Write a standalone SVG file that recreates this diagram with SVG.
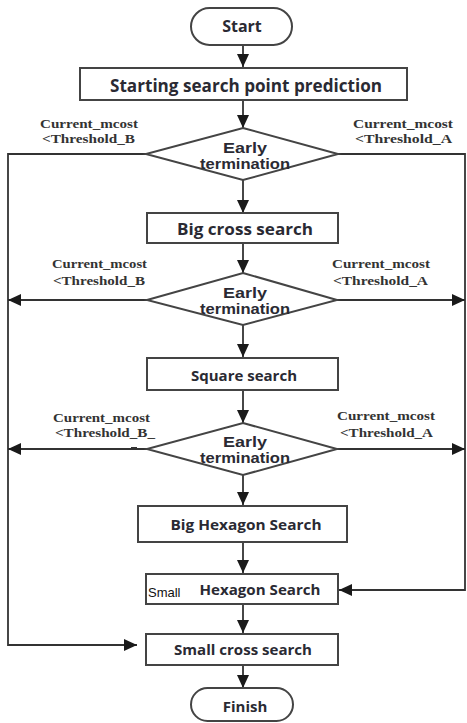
<svg xmlns="http://www.w3.org/2000/svg" width="467" height="723" viewBox="0 0 467 723">
<defs>
<marker id="ah" markerUnits="userSpaceOnUse" markerWidth="14" markerHeight="12" refX="13" refY="6" orient="auto">
<path d="M0,0 L13,6 L0,12 Z" fill="#1a1a1a"/>
</marker>
<style>
.shape{fill:#fff;stroke:#444;stroke-width:2}
.ln{fill:none;stroke:#333;stroke-width:1.8}
.bt{font-family:"Open Sans","DejaVu Sans",sans-serif;font-weight:bold;fill:#2a2a33;text-anchor:middle}
.dt{font-family:"Liberation Sans",Arial,sans-serif;font-weight:bold;font-size:14px;fill:#2a2a33;text-anchor:middle}
.lb{font-family:"Liberation Serif","Times New Roman",serif;font-weight:bold;font-size:13.5px;fill:#333}
.sm{font-family:"Liberation Sans",Arial,sans-serif;font-size:13px;fill:#111}
</style>
</defs>
<rect width="467" height="723" fill="#fff"/>
<g id="connectors">
<path class="ln" d="M243,45 V67" marker-end="url(#ah)"/>
<path class="ln" d="M243,100 V128" marker-end="url(#ah)"/>
<path class="ln" d="M243,180 V213" marker-end="url(#ah)"/>
<path class="ln" d="M243,243 V273" marker-end="url(#ah)"/>
<path class="ln" d="M243,325 V357" marker-end="url(#ah)"/>
<path class="ln" d="M243,390 V423" marker-end="url(#ah)"/>
<path class="ln" d="M243,475 V505" marker-end="url(#ah)"/>
<path class="ln" d="M243,542 V573" marker-end="url(#ah)"/>
<path class="ln" d="M243,604 V633" marker-end="url(#ah)"/>
<path class="ln" d="M243,665 V688" marker-end="url(#ah)"/>
<path class="ln" d="M146,154 H8 V645 H137" marker-end="url(#ah)"/>
<path class="ln" d="M338,154 H465 V590 H339" marker-end="url(#ah)"/>
<path class="ln" d="M147,300 H8" marker-end="url(#ah)"/>
<path class="ln" d="M337,300 H465" marker-end="url(#ah)"/>
<path class="ln" d="M147,449 H8" marker-end="url(#ah)"/>
<path class="ln" d="M337,449 H465" marker-end="url(#ah)"/>
</g>
<g id="start">
<rect class="shape" x="191" y="8" width="101" height="37" rx="18.5"/>
<text class="bt" x="242" y="32" font-size="16">Start</text>
</g>
<g id="predict">
<rect class="shape" x="80" y="68" width="327" height="32"/>
<text class="bt" x="246" y="92" font-size="17" textLength="272" lengthAdjust="spacingAndGlyphs">Starting search point prediction</text>
</g>
<g id="early1">
<polygon class="shape" points="243,128 338,154 243,180 146,154"/>
<text class="dt" x="245" y="153" textLength="44" lengthAdjust="spacingAndGlyphs">Early</text>
<text class="dt" x="245" y="169" textLength="90" lengthAdjust="spacingAndGlyphs">termination</text>
<text class="lb" x="40" y="128" textLength="98" lengthAdjust="spacingAndGlyphs">Current_mcost</text>
<text class="lb" x="42" y="143" textLength="93" lengthAdjust="spacingAndGlyphs">&lt;Threshold_B</text>
<text class="lb" x="353" y="128" textLength="100" lengthAdjust="spacingAndGlyphs">Current_mcost</text>
<text class="lb" x="355" y="143" textLength="97" lengthAdjust="spacingAndGlyphs">&lt;Threshold_A</text>
</g>
<g id="bigcross">
<rect class="shape" x="147" y="213" width="191" height="30"/>
<text class="bt" x="245" y="235" font-size="16" textLength="136" lengthAdjust="spacingAndGlyphs">Big cross search</text>
</g>
<g id="early2">
<polygon class="shape" points="243,273 337,300 243,325 147,300"/>
<text class="dt" x="245" y="298" textLength="44" lengthAdjust="spacingAndGlyphs">Early</text>
<text class="dt" x="245" y="314" textLength="90" lengthAdjust="spacingAndGlyphs">termination</text>
<text class="lb" x="52" y="268" textLength="95" lengthAdjust="spacingAndGlyphs">Current_mcost</text>
<text class="lb" x="53" y="285" textLength="92" lengthAdjust="spacingAndGlyphs">&lt;Threshold_B</text>
<text class="lb" x="332" y="268" textLength="98" lengthAdjust="spacingAndGlyphs">Current_mcost</text>
<text class="lb" x="333" y="285" textLength="95" lengthAdjust="spacingAndGlyphs">&lt;Threshold_A</text>
</g>
<g id="square">
<rect class="shape" x="147" y="358" width="191" height="32"/>
<text class="bt" x="244" y="381" font-size="15" textLength="106" lengthAdjust="spacingAndGlyphs">Square search</text>
</g>
<g id="early3">
<polygon class="shape" points="243,423 337,449 243,475 147,449"/>
<text class="dt" x="245" y="447" textLength="44" lengthAdjust="spacingAndGlyphs">Early</text>
<text class="dt" x="245" y="463" textLength="90" lengthAdjust="spacingAndGlyphs">termination</text>
<text class="lb" x="53" y="422" textLength="97" lengthAdjust="spacingAndGlyphs">Current_mcost</text>
<text class="lb" x="55" y="437" textLength="100" lengthAdjust="spacingAndGlyphs">&lt;Threshold_B_</text>
<rect x="131" y="447" width="6" height="2" fill="#333"/>
<text class="lb" x="337" y="420" textLength="98" lengthAdjust="spacingAndGlyphs">Current_mcost</text>
<text class="lb" x="340" y="437" textLength="93" lengthAdjust="spacingAndGlyphs">&lt;Threshold_A</text>
</g>
<g id="bighex">
<rect class="shape" x="138" y="506" width="209" height="36"/>
<text class="bt" x="246" y="530" font-size="15" textLength="151" lengthAdjust="spacingAndGlyphs">Big Hexagon Search</text>
</g>
<g id="smallhex">
<rect class="shape" x="146" y="574" width="192" height="30"/>
<text class="sm" x="148" y="597">Small</text>
<text class="bt" x="260" y="595" font-size="15" textLength="121" lengthAdjust="spacingAndGlyphs">Hexagon Search</text>
</g>
<g id="smallcross">
<rect class="shape" x="146" y="634" width="192" height="31"/>
<text class="bt" x="243" y="655" font-size="15" textLength="138" lengthAdjust="spacingAndGlyphs">Small cross search</text>
</g>
<g id="finish">
<rect class="shape" x="191" y="688" width="102" height="33" rx="16.5"/>
<text class="bt" x="245" y="712" font-size="15">Finish</text>
</g>
</svg>
